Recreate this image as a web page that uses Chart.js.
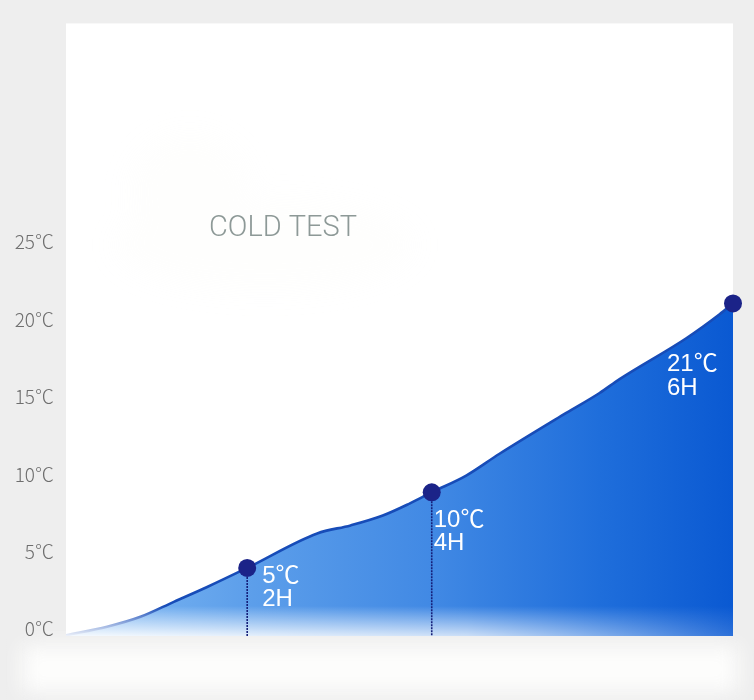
<!DOCTYPE html>
<html>
<head>
<meta charset="utf-8">
<script src="https://cdn.jsdelivr.net/npm/chart.js@4.4.1/dist/chart.umd.min.js"></script>
<style>
  html, body { margin: 0; padding: 0; background: #eeeeee; }
  #wrap { width: 754px; height: 700px; position: relative; }
</style>
</head>
<body>
<div id="wrap"><canvas id="c" width="754" height="700"></canvas></div>
<script>
// ---- data ----
const curveHours = [0, 0.37, 0.67, 0.97, 1.27, 1.63, 2.26, 2.56, 2.85, 3.09, 3.29, 3.60, 3.90, 4.50, 4.80, 4.98, 5.58, 5.88, 6.00];
const curveTemps = [0.05, 0.60, 1.24, 2.21, 3.17, 4.40, 6.63, 7.15, 7.79, 8.56, 9.29, 10.37, 11.78, 14.42, 15.71, 16.61, 19.25, 20.80, 21.5];
const markerHours = [1.63, 3.29, 6.00];
const markerTemps = [4.40, 9.29, 21.5];
const markerTempLabels = ['5℃', '10℃', '21℃'];
const markerTimeLabels = ['2H', '4H', '6H'];
const tickValues = [0, 5, 10, 15, 20, 25];
const tickLabels = ['0℃', '5℃', '10℃', '15℃', '20℃', '25℃'];
const chartTitle = 'COLD TEST';

// ---- styling ----
const labelOffsets = [[15, 15, 38], [2, 35, 58], [-66, 68, 92]];

const decorPlugin = {
  id: 'decor',
  beforeDraw(chart) {
    const { ctx, chartArea: a } = chart;
    ctx.save();
    // soft white band under the chart
    ctx.filter = 'blur(10px)';
    ctx.fillStyle = '#fdfdfc';
    ctx.fillRect(22, 646, 716, 46);
    ctx.filter = 'none';
    // white panel
    ctx.fillStyle = '#ffffff';
    ctx.fillRect(a.left, a.top, a.right - a.left, a.bottom - a.top);
    // faint cloud
    ctx.filter = 'blur(14px)';
    ctx.fillStyle = 'rgba(240,240,232,0.09)';
    ctx.beginPath();
    ctx.ellipse(190, 190, 60, 55, 0, 0, Math.PI * 2);
    ctx.ellipse(265, 245, 150, 45, 0, 0, Math.PI * 2);
    ctx.fill();
    ctx.filter = 'none';
    // title
    ctx.font = '300 29px Roboto, "Liberation Sans", sans-serif';
    ctx.fillStyle = '#8d9997';
    ctx.textBaseline = 'alphabetic';
    ctx.textAlign = 'left';
    ctx.fillText(chartTitle, 209, 236, 148);
    ctx.restore();
  },
  afterDatasetDraw(chart, args) {
    if (args.index !== 0) return;
    const { ctx, chartArea: a, scales } = chart;
    ctx.save();
    ctx.beginPath();
    ctx.rect(a.left, a.top, a.right - a.left, a.bottom - a.top);
    ctx.clip();
    // white fade at the bottom of the fill
    const h = 30;
    const g = ctx.createLinearGradient(0, a.bottom - h, 0, a.bottom);
    g.addColorStop(0, 'rgba(255,255,255,0)');
    g.addColorStop(1, 'rgba(255,255,255,1)');
    ctx.fillStyle = g;
    for (let x = Math.floor(a.left); x < a.right; x++) {
      const t = (x - a.left) / (a.right - a.left);
      const alpha = t < 0.6 ? 0.92 - 0.3 * t : 0.74 - 1.5 * (t - 0.6);
      ctx.globalAlpha = Math.max(0.12, alpha);
      ctx.fillRect(x, a.bottom - h, 1, h);
    }
    ctx.globalAlpha = 1;
    // drop lines
    ctx.strokeStyle = '#16207a';
    ctx.lineWidth = 1.6;
    ctx.setLineDash([2, 1]);
    markerHours.forEach((hr, i) => {
      const x = scales.x.getPixelForValue(hr);
      const y = scales.y.getPixelForValue(markerTemps[i]);
      if (x >= a.right - 2) return;
      ctx.beginPath();
      ctx.moveTo(x, y);
      ctx.lineTo(x, a.bottom);
      ctx.stroke();
    });
    ctx.restore();
  },
  afterDatasetsDraw(chart) {
    const { ctx, scales } = chart;
    ctx.save();
    ctx.fillStyle = '#ffffff';
    ctx.font = '24px "Liberation Sans", Arial, "Noto Sans CJK SC", sans-serif';
    ctx.textAlign = 'left';
    ctx.textBaseline = 'alphabetic';
    markerHours.forEach((hr, i) => {
      const x = scales.x.getPixelForValue(hr);
      const y = scales.y.getPixelForValue(markerTemps[i]);
      const o = labelOffsets[i];
      ctx.fillText(markerTempLabels[i], x + o[0], y + o[1]);
      ctx.fillText(markerTimeLabels[i], x + o[0], y + o[2]);
    });
    ctx.restore();
  }
};

function fillGradient(context) {
  const chart = context.chart;
  const a = chart.chartArea;
  if (!a) return 'rgba(70,140,230,1)';
  const g = chart.ctx.createLinearGradient(a.left, 0, a.right, 0);
  g.addColorStop(0, '#82bbf4');
  g.addColorStop(0.28, '#5c9eea');
  g.addColorStop(0.55, '#4189e4');
  g.addColorStop(0.8, '#1f6edb');
  g.addColorStop(1, '#0a59d2');
  return g;
}

new Chart(document.getElementById('c'), {
  type: 'line',
  data: {
    datasets: [
      {
        data: curveHours.map((h, i) => ({ x: h, y: curveTemps[i] })),
        borderColor: '#174cb8',
        borderWidth: 2.6,
        backgroundColor: fillGradient,
        fill: 'origin',
        pointRadius: 0,
        cubicInterpolationMode: 'monotone',
        order: 1
      },
      {
        data: markerHours.map((h, i) => ({ x: h, y: markerTemps[i] })),
        showLine: false,
        pointRadius: 9,
        pointHoverRadius: 9,
        pointBackgroundColor: '#1b2388',
        pointBorderWidth: 0,
        clip: false,
        order: 0
      }
    ]
  },
  options: {
    responsive: false,
    devicePixelRatio: 1,
    animation: false,
    layout: { padding: { top: 21, right: 21, bottom: 64, left: 0 } },
    plugins: { legend: { display: false }, tooltip: { enabled: false } },
    scales: {
      x: { type: 'linear', min: 0, max: 6, display: false },
      y: {
        min: 0,
        max: 39.6,
        grid: { display: false, drawTicks: false },
        border: { display: false },
        afterBuildTicks(scale) { scale.ticks = tickValues.map(v => ({ value: v })); },
        afterFit(scale) { scale.width = 66; },
        ticks: {
          padding: 12,
          labelOffset: -7,
          color: '#6e6e6e',
          font: { family: '"Noto Sans CJK SC", "DejaVu Sans", sans-serif', size: 19, weight: 300 },
          callback(value) { const i = tickValues.indexOf(value); return i >= 0 ? tickLabels[i] : ''; }
        }
      }
    }
  },
  plugins: [decorPlugin]
});
</script>
</body>
</html>
